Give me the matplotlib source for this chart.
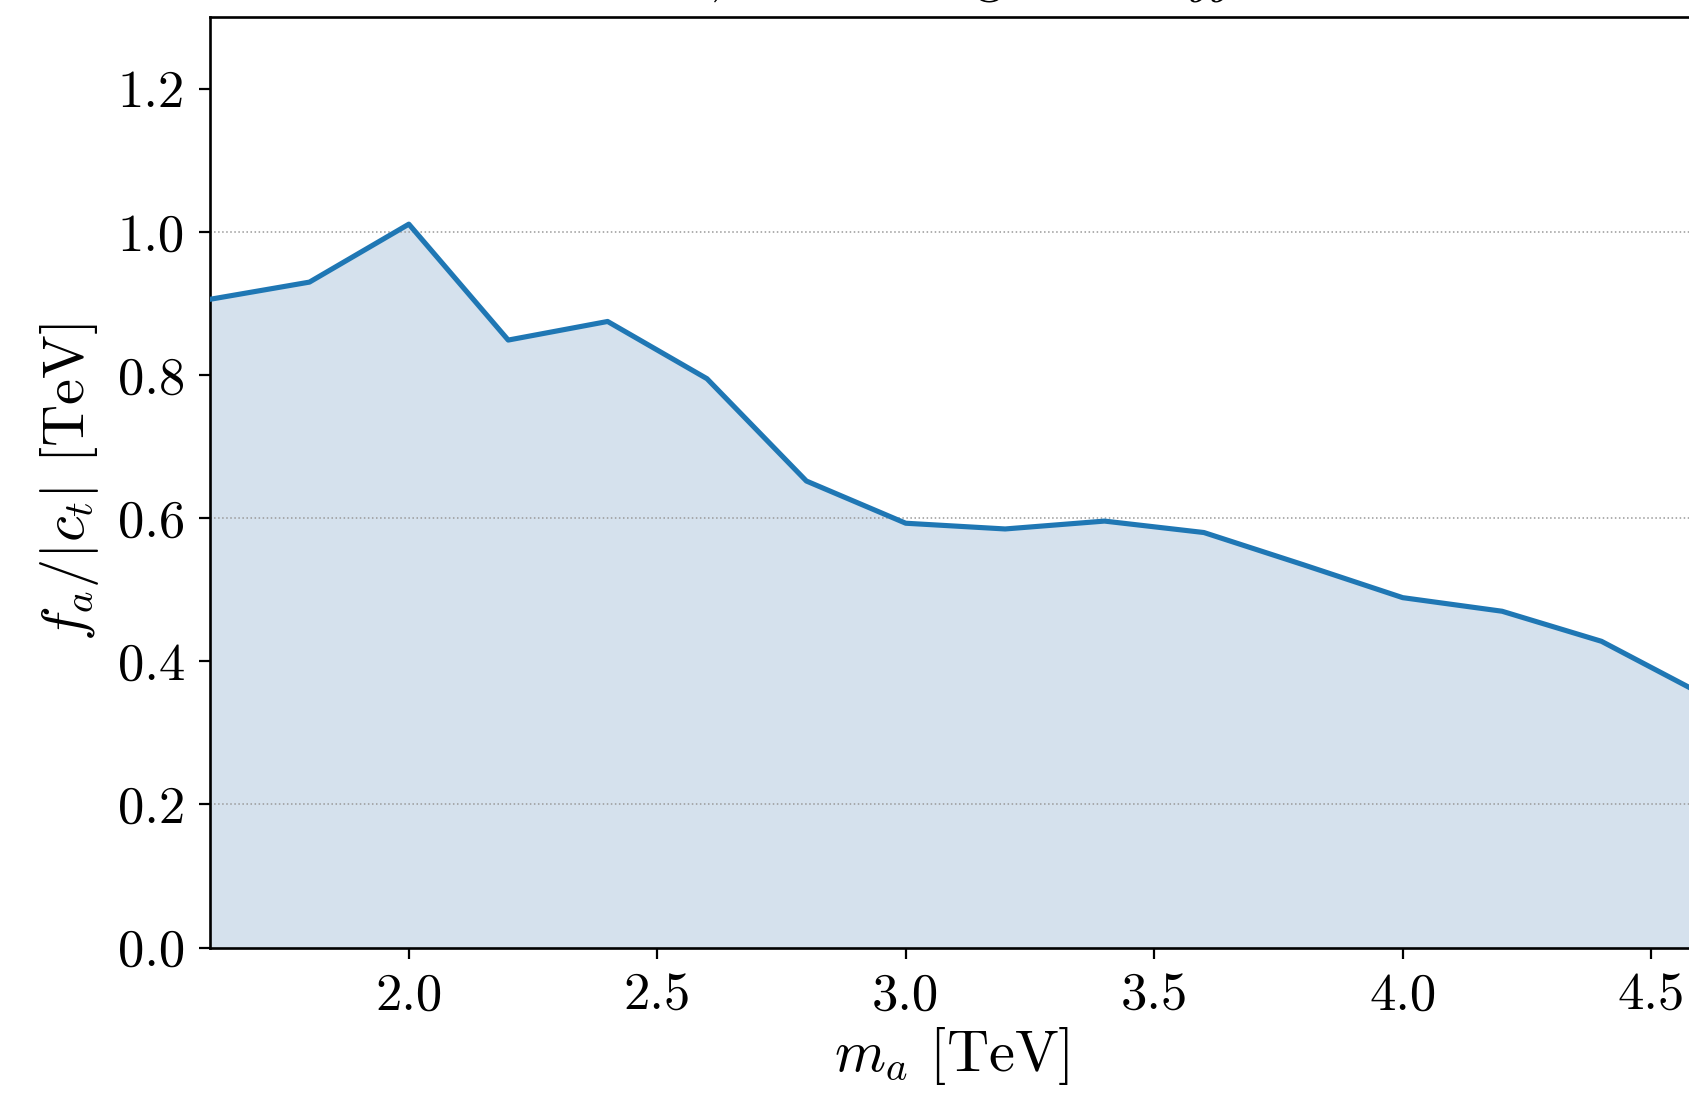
import matplotlib
matplotlib.use("Agg")
import matplotlib.pyplot as plt

plt.rcParams.update({
    "font.family": "serif",
    "font.serif": ["cmr10"],
    "mathtext.fontset": "cm",
    "axes.unicode_minus": False,
    "axes.formatter.use_mathtext": True,
})

# ALP mass [TeV] and bound on f_a/|c_t| [TeV]
m_a = [1.6, 1.8, 2.0, 2.2, 2.4, 2.6, 2.8, 3.0, 3.2, 3.4, 3.6, 3.8, 4.0, 4.2, 4.4, 4.6]
fa_over_ct = [0.906, 0.930, 1.011, 0.849, 0.875, 0.795, 0.652, 0.593, 0.585, 0.596,
              0.580, 0.535, 0.489, 0.470, 0.428, 0.355]
guide_levels = [0.2, 0.6, 1.0]
x_ticks = [2.0, 2.5, 3.0, 3.5, 4.0, 4.5]
y_ticks = [0.0, 0.2, 0.4, 0.6, 0.8, 1.0, 1.2]

FS = 38
fig = plt.figure(figsize=(16.9, 10.93), dpi=100)
ax = fig.add_axes([0.1243, 0.1331, 0.8757 + 0.002, 0.8510])

ax.fill_between(m_a, 0, fa_over_ct, color="#d5e1ed", lw=0, zorder=1)
for lev in guide_levels:
    ax.axhline(lev, color="#999999", ls=":", lw=1.1, zorder=2)
ax.plot(m_a, fa_over_ct, color="#1f77b4", lw=3.7, zorder=3)

ax.set_xlim(1.6, 4.585)
ax.set_ylim(0, 1.3)
ax.set_xticks(x_ticks)
ax.set_yticks(y_ticks)
ax.set_xticklabels([f"{v:.1f}" for v in x_ticks])
ax.set_yticklabels([f"{v:.1f}" for v in y_ticks])
ax.tick_params(labelsize=FS, length=8, width=1.6, pad=10)
for s in ("left", "bottom", "top"):
    ax.spines[s].set_linewidth(1.9)
ax.spines["right"].set_visible(False)

ax.set_xlabel(r"$m_a$ [TeV]", fontsize=FS + 4, labelpad=4)
ax.set_ylabel(r"$f_a/|c_t|$ [TeV]", fontsize=FS + 4, labelpad=12)

# title sits mostly above the top edge of the canvas
fig.text(0.527, 1.0075, r"Resonance bound, ALP as a gluon $\to jj$ resonance",
         ha="center", va="baseline", fontsize=FS)

fig.savefig("out.png", dpi=100, facecolor="white")
